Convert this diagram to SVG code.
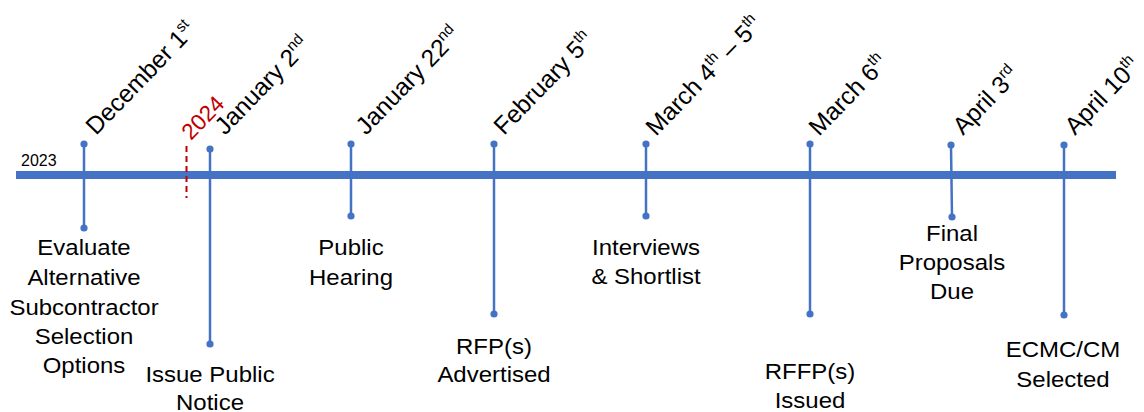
<svg xmlns="http://www.w3.org/2000/svg" width="1144" height="412" viewBox="0 0 1144 412">
<style>
.lbl{font-family:"Liberation Sans",Arial,sans-serif;font-size:22px;fill:#000;text-anchor:middle}
.date{font-family:"Liberation Sans",Arial,sans-serif;font-size:24.5px;fill:#000}
.sup{font-size:15px}
.stem{stroke:#4472C4;stroke-width:2.5;fill:none}
.dot{fill:#4472C4}
</style>
<rect width="1144" height="412" fill="#fff"/>
<g id="axis">
<line x1="16" y1="175" x2="1116" y2="175" stroke="#4472C4" stroke-width="8"/>
<text x="21" y="166" font-family="'Liberation Sans',Arial,sans-serif" font-size="16" fill="#000">2023</text>
</g>
<g id="year-2024">
<line x1="186.5" y1="146" x2="186.5" y2="198" stroke="#C00000" stroke-width="2" stroke-dasharray="6,4"/>
<text transform="translate(191 141) rotate(-46)" font-family="'Liberation Sans',Arial,sans-serif" font-size="22.5" fill="#C00000">2024</text>
</g>
<g id="connectors">
<line class="stem" x1="84" y1="144" x2="84" y2="228"/>
<line class="stem" x1="210" y1="149" x2="210" y2="344"/>
<line class="stem" x1="351" y1="144" x2="351" y2="216"/>
<line class="stem" x1="494" y1="144" x2="494" y2="314"/>
<line class="stem" x1="646" y1="144" x2="646" y2="216"/>
<line class="stem" x1="810" y1="144" x2="810" y2="314"/>
<line class="stem" x1="951" y1="145" x2="952" y2="217"/>
<line class="stem" x1="1064" y1="145" x2="1064" y2="315"/>
</g>
<g id="m-dec1">
<circle class="dot" cx="84" cy="144" r="3.6"/><circle class="dot" cx="84" cy="228" r="3.6"/>
<text class="date" transform="translate(96 136) rotate(-46)">December 1<tspan class="sup" dy="-10">st</tspan></text>
<g transform="translate(84 0) scale(1.09 1)"><text class="lbl" x="0" y="255">Evaluate</text><text class="lbl" x="0" y="285">Alternative</text><text class="lbl" x="0" y="315">Subcontractor</text><text class="lbl" x="0" y="344">Selection</text><text class="lbl" x="0" y="373">Options</text></g>
</g>
<g id="m-jan2">
<circle class="dot" cx="210" cy="149" r="3.6"/><circle class="dot" cx="210" cy="344" r="3.6"/>
<text class="date" transform="translate(225 136) rotate(-46)">January 2<tspan class="sup" dy="-10">nd</tspan></text>
<g transform="translate(210 0) scale(1.09 1)"><text class="lbl" x="0" y="382">Issue Public</text><text class="lbl" x="0" y="410">Notice</text></g>
</g>
<g id="m-jan22">
<circle class="dot" cx="351" cy="144" r="3.6"/><circle class="dot" cx="351" cy="216" r="3.6"/>
<text class="date" transform="translate(366 136) rotate(-46)">January 22<tspan class="sup" dy="-10">nd</tspan></text>
<g transform="translate(351 0) scale(1.09 1)"><text class="lbl" x="0" y="255">Public</text><text class="lbl" x="0" y="285">Hearing</text></g>
</g>
<g id="m-feb5">
<circle class="dot" cx="494" cy="144" r="3.6"/><circle class="dot" cx="494" cy="314" r="3.6"/>
<text class="date" transform="translate(504 136) rotate(-46)">February 5<tspan class="sup" dy="-10">th</tspan></text>
<g transform="translate(494 0) scale(1.09 1)"><text class="lbl" x="0" y="354">RFP(s)</text><text class="lbl" x="0" y="382">Advertised</text></g>
</g>
<g id="m-mar4">
<circle class="dot" cx="646" cy="144" r="3.6"/><circle class="dot" cx="646" cy="216" r="3.6"/>
<text class="date" transform="translate(656 137) rotate(-46)">March 4<tspan class="sup" dy="-10">th</tspan><tspan dy="10"> – 5</tspan><tspan class="sup" dy="-10">th</tspan></text>
<g transform="translate(646 0) scale(1.09 1)"><text class="lbl" x="0" y="255">Interviews</text><text class="lbl" x="0" y="284">&amp; Shortlist</text></g>
</g>
<g id="m-mar6">
<circle class="dot" cx="810" cy="144" r="3.6"/><circle class="dot" cx="810" cy="314" r="3.6"/>
<text class="date" transform="translate(819 137) rotate(-46)">March 6<tspan class="sup" dy="-10">th</tspan></text>
<g transform="translate(810 0) scale(1.09 1)"><text class="lbl" x="0" y="379">RFFP(s)</text><text class="lbl" x="0" y="408">Issued</text></g>
</g>
<g id="m-apr3">
<circle class="dot" cx="951" cy="145" r="3.6"/><circle class="dot" cx="952" cy="217" r="3.6"/>
<text class="date" transform="translate(963 136) rotate(-46)">April 3<tspan class="sup" dy="-10">rd</tspan></text>
<g transform="translate(952 0) scale(1.09 1)"><text class="lbl" x="0" y="241">Final</text><text class="lbl" x="0" y="270">Proposals</text><text class="lbl" x="0" y="299">Due</text></g>
</g>
<g id="m-apr10">
<circle class="dot" cx="1064" cy="145" r="3.6"/><circle class="dot" cx="1064" cy="315" r="3.6"/>
<text class="date" transform="translate(1075 136) rotate(-46)">April 10<tspan class="sup" dy="-10">th</tspan></text>
<g transform="translate(1063 0) scale(1.09 1)"><text class="lbl" x="0" y="357">ECMC/CM</text><text class="lbl" x="0" y="387">Selected</text></g>
</g>
</svg>
